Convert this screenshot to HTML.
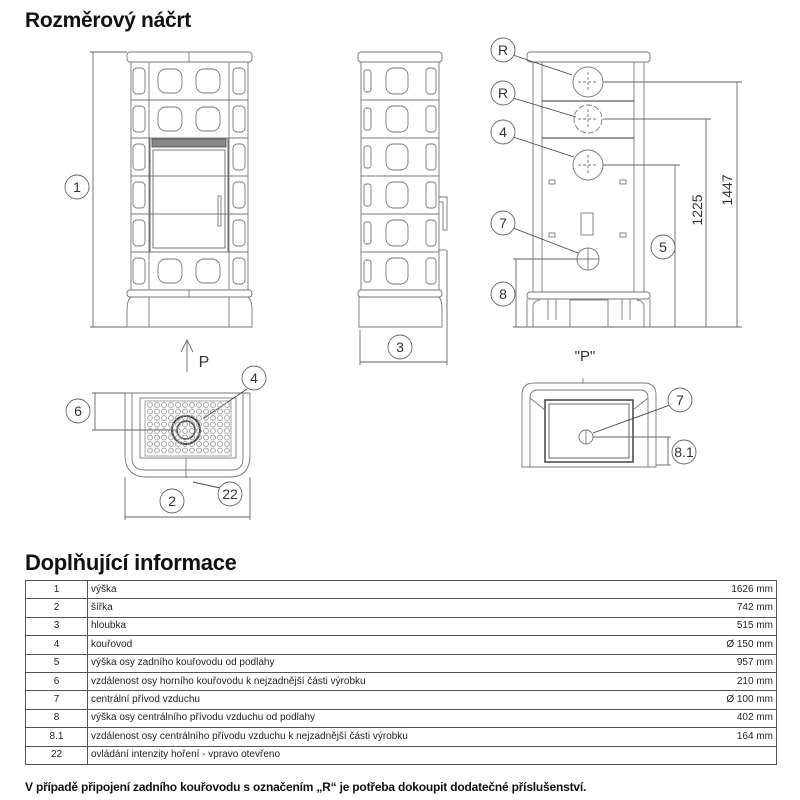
<!DOCTYPE html>
<html><head><meta charset="utf-8">
<style>
body{margin:0;width:800px;height:800px;background:#fff;overflow:hidden;font-family:"Liberation Sans",sans-serif;}
h1{position:absolute;left:25px;top:9px;margin:0;font-size:21px;font-weight:bold;color:#111;letter-spacing:-0.3px;}
h2{position:absolute;left:25px;top:550px;margin:0;font-size:22px;font-weight:bold;color:#111;letter-spacing:-0.3px;}
table{position:absolute;left:25px;top:580px;width:752px;border-collapse:collapse;font-size:10px;color:#222;}
td{border:1.3px solid #555;height:17.4px;padding:0 3px;line-height:16px;vertical-align:middle;}
td.n{width:55px;text-align:center;}
td.v{text-align:right;border-left:none;}
td.d{border-right:none;}
.note{position:absolute;left:25px;top:780px;font-size:12px;font-weight:bold;color:#111;letter-spacing:-0.2px;}
svg{position:absolute;left:0;top:0;}
</style></head><body>
<h1>Rozměrový náčrt</h1>
<svg id="s" width="800" height="540" viewBox="0 0 800 540" fill="none" stroke="#777" stroke-width="0.9" font-family="Liberation Sans, sans-serif">
<rect x="127" y="52" width="125" height="10" rx="3"/>
<line x1="189" y1="52" x2="189" y2="62"/>
<rect x="131" y="62" width="117" height="228"/>
<line x1="149" y1="62" x2="149" y2="290"/><line x1="229" y1="62" x2="229" y2="290"/>
<rect x="127" y="290" width="125" height="7" rx="3"/>
<path d="M131 297 H248 Q252 300 252 310 V327 H127 V310 Q127 300 131 297Z"/>
<line x1="149" y1="297" x2="149" y2="327"/><line x1="229" y1="297" x2="229" y2="327"/><line x1="189" y1="290" x2="189" y2="297"/>
<rect x="150" y="138" width="78" height="114" stroke="#555"/>
<rect x="153" y="150" width="72" height="98" stroke="#666"/>
<rect x="152" y="139" width="74" height="8" fill="#888" stroke="#555"/>
<rect x="218" y="196" width="3" height="30"/>
<rect x="358" y="52" width="84" height="10" rx="3"/>
<rect x="361" y="62" width="78" height="228"/>
<rect x="358" y="290" width="84" height="7" rx="3"/>
<path d="M361 297 H439 Q442 300 442 310 V327 H359 V297"/>
<path d="M439 197 H447 V230 H443 V202 H439"/>
<line x1="439" y1="250" x2="446" y2="250"/>
<g stroke="#666">
<line x1="93" y1="52" x2="93" y2="327"/><line x1="90" y1="52" x2="127" y2="52"/><line x1="90" y1="327" x2="127" y2="327"/>
<line x1="360" y1="330" x2="360" y2="365"/><line x1="447" y1="250" x2="447" y2="365"/><line x1="360" y1="362" x2="447" y2="362"/>
</g>
<rect x="527" y="52" width="123" height="10" rx="3"/>
<rect x="533" y="62" width="111" height="230"/>
<line x1="542" y1="62" x2="542" y2="292"/><line x1="634" y1="62" x2="634" y2="292"/>
<line x1="542" y1="101" x2="634" y2="101" stroke="#333"/><line x1="542" y1="138" x2="634" y2="138" stroke="#333"/>
<circle cx="588" cy="82" r="15"/><circle cx="588" cy="119" r="14" stroke-dasharray="6 2"/><circle cx="588" cy="165" r="15"/>
<g stroke-dasharray="3 2"><line x1="578" y1="82" x2="598" y2="82"/><line x1="588" y1="72" x2="588" y2="92"/><line x1="578" y1="119" x2="598" y2="119"/><line x1="588" y1="109" x2="588" y2="129"/><line x1="578" y1="165" x2="598" y2="165"/><line x1="588" y1="155" x2="588" y2="175"/></g>
<circle cx="588" cy="259" r="11"/><line x1="588" y1="248" x2="588" y2="270"/><line x1="577" y1="259" x2="599" y2="259"/>
<rect x="581" y="213" width="12" height="22"/>
<rect x="549" y="180" width="6" height="4"/><rect x="620" y="180" width="6" height="4"/><rect x="549" y="233" width="6" height="4"/><rect x="620" y="233" width="6" height="4"/>
<rect x="527" y="292" width="123" height="7" rx="3"/>
<path d="M527 299 V327 H650 V299 M533 327 V305 Q535 300 540 300 M644 327 V305 Q642 300 637 300"/>
<rect x="570" y="300" width="38" height="27"/><line x1="548" y1="299" x2="548" y2="320"/><line x1="556" y1="299" x2="556" y2="320"/><line x1="622" y1="299" x2="622" y2="320"/><line x1="630" y1="299" x2="630" y2="320"/>
<g stroke="#666">
<line x1="603" y1="82" x2="742" y2="82"/><line x1="737" y1="82" x2="737" y2="327"/>
<line x1="603" y1="119" x2="711" y2="119"/><line x1="706" y1="119" x2="706" y2="327"/>
<line x1="603" y1="165" x2="680" y2="165"/><line x1="675" y1="165" x2="675" y2="327"/>
<line x1="513" y1="259" x2="577" y2="259"/><line x1="516" y1="259" x2="516" y2="327"/>
<line x1="513" y1="327" x2="742" y2="327"/>
</g>
<g stroke="#444"><line x1="513" y1="55" x2="572" y2="75"/><line x1="513" y1="98" x2="576" y2="117"/><line x1="513" y1="137" x2="574" y2="157"/><line x1="513" y1="228" x2="578" y2="253"/></g>
<path d="M125 393 V455 Q125 477 147 477 H230 Q250 477 250 455 V393"/>
<path d="M125 393 H250"/>
<path d="M132 393 V458 Q132 470 145 470 H232 Q243 470 243 458 V393"/>
<rect x="140" y="398" width="96" height="60"/>
<rect x="145" y="401" width="86" height="55" stroke="#999"/>
<circle cx="186" cy="430" r="14" stroke="#444" stroke-width="2"/><circle cx="186" cy="430" r="9" stroke="#444" stroke-width="1.5"/>
<line x1="186" y1="458" x2="186" y2="478"/>
<g stroke="#666"><line x1="92" y1="393" x2="125" y2="393"/><line x1="92" y1="430" x2="176" y2="430"/><line x1="95" y1="393" x2="95" y2="430"/>
<line x1="125" y1="477" x2="125" y2="520"/><line x1="250" y1="477" x2="250" y2="520"/><line x1="125" y1="517" x2="250" y2="517"/></g>
<g stroke="#444"><line x1="247" y1="389" x2="204" y2="418"/><line x1="220" y1="488" x2="193" y2="482"/></g>
<line x1="187" y1="340" x2="187" y2="372" stroke="#666"/><path d="M181 352 L187 340 L193 352" stroke="#666"/>
<path d="M522 467 V395 Q522 383 534 383 H644 Q656 383 656 395 V467 Z"/>
<path d="M530 467 V398 Q530 390 538 390 H640 Q648 390 648 398 V467"/>
<rect x="545" y="400" width="88" height="62" stroke="#444" stroke-width="1.5"/>
<rect x="549" y="404" width="80" height="54" stroke="#555"/>
<path d="M530 398 L545 410 M648 398 L633 410"/>
<circle cx="586" cy="437" r="7"/><line x1="586" y1="430" x2="586" y2="444"/>
<line x1="583" y1="378" x2="583" y2="383"/>
<g stroke="#666"><line x1="593" y1="437" x2="671" y2="437"/><line x1="656" y1="465" x2="671" y2="465"/><line x1="668" y1="437" x2="668" y2="465"/></g>
<line x1="670" y1="405" x2="593" y2="433" stroke="#444"/>
<g stroke="#666" fill="#fff">
<circle cx="77" cy="187" r="12"/><circle cx="400" cy="347" r="12"/>
<circle cx="503" cy="50" r="12"/><circle cx="503" cy="93" r="12"/><circle cx="503" cy="132" r="12"/><circle cx="503" cy="223" r="12"/><circle cx="503" cy="294" r="12"/><circle cx="663" cy="247" r="12"/>
<circle cx="78" cy="411" r="12"/><circle cx="254" cy="378" r="12"/><circle cx="172" cy="501" r="12"/><circle cx="230" cy="494" r="12"/>
<circle cx="680" cy="400" r="12"/><circle cx="684" cy="452" r="12"/>
</g>
<g fill="#333" stroke="none" font-size="14" text-anchor="middle">
<text x="77" y="192">1</text><text x="400" y="352">3</text>
<text x="503" y="55">R</text><text x="503" y="98">R</text><text x="503" y="137">4</text><text x="503" y="228">7</text><text x="503" y="299">8</text><text x="663" y="252">5</text>
<text x="78" y="416">6</text><text x="254" y="383">4</text><text x="172" y="506">2</text><text x="230" y="499">22</text>
<text x="680" y="405">7</text><text x="684" y="457">8.1</text>
<text x="204" y="367" font-size="16">P</text><text x="585" y="361" font-size="15">"P"</text>
<text transform="translate(702,210) rotate(-90)">1225</text>
<text transform="translate(732,190) rotate(-90)">1447</text>
</g>
</svg>
<script>
var s=document.getElementById('s'),h='';
var rows=[62,100,138,176,214,252];
function tile(x,y,w,hh){return '<rect x="'+x+'" y="'+y+'" width="'+w+'" height="'+hh+'" rx="'+(w/3)+'"/>';}
rows.forEach(function(y,i){
 h+='<line x1="131" y1="'+y+'" x2="248" y2="'+y+'"/>';
 h+=tile(133,y+6,12,26)+tile(233,y+6,12,26);
 if(i<2||i==5){h+=tile(158,y+7,24,24)+tile(196,y+7,24,24);}
 h+='<line x1="361" y1="'+y+'" x2="439" y2="'+y+'"/>';
 h+=tile(364,y+8,7,22)+tile(386,y+6,22,26)+tile(426,y+6,10,26);
});
for(var r=0;r<8;r++)for(var c=0;c<12;c++){var cx=150+c*7,cy=405+r*6.5;h+='<circle cx="'+cx+'" cy="'+cy+'" r="2.4" stroke="#999"/>';}
s.insertAdjacentHTML('beforeend',h);
</script>
<h2>Doplňující informace</h2>
<table>
<tr><td class="n">1</td><td class="d">výška</td><td class="v">1626 mm</td></tr>
<tr><td class="n">2</td><td class="d">šířka</td><td class="v">742 mm</td></tr>
<tr><td class="n">3</td><td class="d">hloubka</td><td class="v">515 mm</td></tr>
<tr><td class="n">4</td><td class="d">kouřovod</td><td class="v">Ø 150 mm</td></tr>
<tr><td class="n">5</td><td class="d">výška osy zadního kouřovodu od podlahy</td><td class="v">957 mm</td></tr>
<tr><td class="n">6</td><td class="d">vzdálenost osy horního kouřovodu k nejzadnější části výrobku</td><td class="v">210 mm</td></tr>
<tr><td class="n">7</td><td class="d">centrální přívod vzduchu</td><td class="v">Ø 100 mm</td></tr>
<tr><td class="n">8</td><td class="d">výška osy centrálního přívodu vzduchu od podlahy</td><td class="v">402 mm</td></tr>
<tr><td class="n">8.1</td><td class="d">vzdálenost osy centrálního přívodu vzduchu k nejzadnější části výrobku</td><td class="v">164 mm</td></tr>
<tr><td class="n">22</td><td class="d">ovládání intenzity hoření - vpravo otevřeno</td><td class="v"></td></tr>
</table>
<div class="note">V případě připojení zadního kouřovodu s označením „R“ je potřeba dokoupit dodatečné příslušenství.</div>
</body></html>
